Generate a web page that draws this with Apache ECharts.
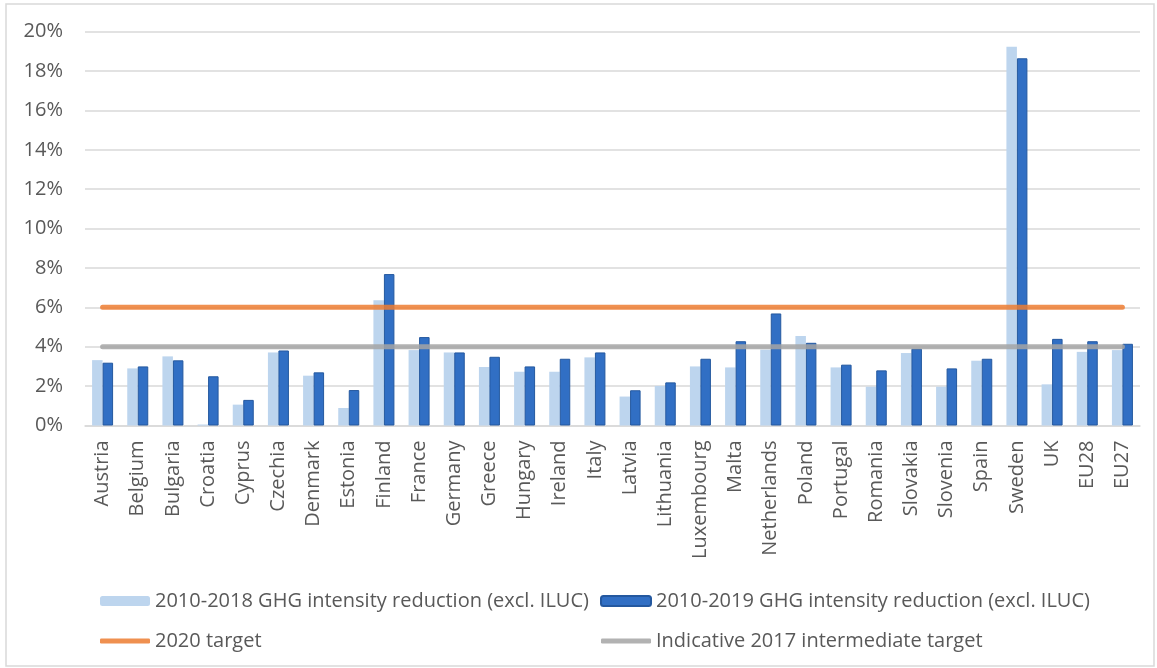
<!DOCTYPE html>
<html>
<head>
<meta charset="utf-8">
<script src="https://cdn.jsdelivr.net/npm/echarts@6/dist/echarts.min.js"></script>
<style>
  html, body { margin: 0; padding: 0; background: #ffffff; }
  #chart { width: 1157px; height: 668px; }
</style>
</head>
<body>
<div id="chart"></div>
<script>
const categories = ["Austria","Belgium","Bulgaria","Croatia","Cyprus","Czechia","Denmark","Estonia","Finland","France","Germany","Greece","Hungary","Ireland","Italy","Latvia","Lithuania","Luxembourg","Malta","Netherlands","Poland","Portugal","Romania","Slovakia","Slovenia","Spain","Sweden","UK","EU28","EU27"];
const reduction2018 = [3.32,2.90,3.51,0.05,1.06,3.71,2.53,0.89,6.36,3.83,3.71,2.97,2.73,2.73,3.46,1.47,2.01,3.00,2.95,3.85,4.55,2.95,1.97,3.68,1.97,3.29,19.24,2.09,3.74,3.83];
const reduction2019 = [3.19,3.00,3.31,2.50,1.30,3.81,2.70,1.80,7.69,4.49,3.71,3.49,3.00,3.39,3.71,1.79,2.19,3.39,4.28,5.69,4.20,3.09,2.80,3.90,2.90,3.39,18.65,4.40,4.28,4.15];
const target2020 = [6,6,6,6,6,6,6,6,6,6,6,6,6,6,6,6,6,6,6,6,6,6,6,6,6,6,6,6,6,6];
const target2017 = [4,4,4,4,4,4,4,4,4,4,4,4,4,4,4,4,4,4,4,4,4,4,4,4,4,4,4,4,4,4];
const yTickLabels = ["0%","2%","4%","6%","8%","10%","12%","14%","16%","18%","20%"];

const names = [
  "2010-2018 GHG intensity reduction (excl. ILUC)",
  "2010-2019 GHG intensity reduction (excl. ILUC)",
  "2020 target",
  "Indicative 2017 intermediate target"
];

const FONT = "'Open Sans', 'Noto Sans', sans-serif";
const TXT = "#595959";

const chart = echarts.init(document.getElementById('chart'), null, { renderer: 'canvas' });

const legendText = { color: TXT, fontSize: 20, fontFamily: FONT };

chart.setOption({
  animation: false,
  backgroundColor: '#ffffff',
  graphic: [{
    type: 'rect',
    shape: { x: 6, y: 4, width: 1148, height: 662 },
    style: { fill: 'none', stroke: '#D9D9D9', lineWidth: 1.5 },
    silent: true,
    z: -10
  }],
  grid: { left: 85, right: 17, top: 31.7, bottom: 242.5, containLabel: false },
  legend: [
    { data: [names[0]], left: 95, top: 586, itemWidth: 50, itemHeight: 10, itemGap: 0, textStyle: legendText, selectedMode: false },
    { data: [names[1]], left: 595, top: 586, itemWidth: 50, itemHeight: 10, itemGap: 0, textStyle: legendText, selectedMode: false },
    { data: [{ name: names[2], icon: 'roundRect' }], left: 95, top: 626, itemWidth: 50, itemHeight: 5, itemGap: 0, textStyle: legendText, selectedMode: false },
    { data: [{ name: names[3], icon: 'roundRect' }], left: 596, top: 626, itemWidth: 50, itemHeight: 5, itemGap: 0, textStyle: legendText, selectedMode: false }
  ],
  xAxis: {
    type: 'category',
    data: categories,
    axisLine: { show: true, lineStyle: { color: '#D9D9D9', width: 1.5 } },
    axisTick: { show: false },
    axisLabel: {
      rotate: 90,
      interval: 0,
      margin: 15,
      color: TXT,
      fontSize: 20,
      fontFamily: FONT
    }
  },
  yAxis: {
    type: 'value',
    min: 0,
    max: 20,
    interval: 2,
    axisLine: { show: false },
    axisTick: { show: false },
    splitLine: { show: true, lineStyle: { color: '#D9D9D9', width: 1.5 } },
    axisLabel: {
      margin: 22,
      color: TXT,
      fontSize: 20,
      fontFamily: FONT,
      formatter: function (v) { return yTickLabels[Math.round(v / 2)]; }
    }
  },
  series: [
    {
      name: names[0],
      type: 'bar',
      data: reduction2018,
      barWidth: 10.5,
      barGap: '0%',
      itemStyle: { color: '#BDD5EE' },
      z: 2
    },
    {
      name: names[1],
      type: 'bar',
      data: reduction2019,
      barWidth: 10.5,
      barGap: '0%',
      itemStyle: { color: '#316FC4', borderColor: '#24589F', borderWidth: 1 },
      z: 2
    },
    {
      name: names[2],
      type: 'line',
      data: target2020,
      symbol: 'none',
      showSymbol: false,
      lineStyle: { color: '#ED7D31', width: 5, cap: 'round', opacity: 0.85 },
      itemStyle: { color: '#EF9050' },
      z: 5
    },
    {
      name: names[3],
      type: 'line',
      data: target2017,
      symbol: 'none',
      showSymbol: false,
      lineStyle: { color: '#A5A5A5', width: 5, cap: 'round', opacity: 0.85 },
      itemStyle: { color: '#B2B2B2' },
      z: 5
    }
  ]
});
</script>
</body>
</html>
